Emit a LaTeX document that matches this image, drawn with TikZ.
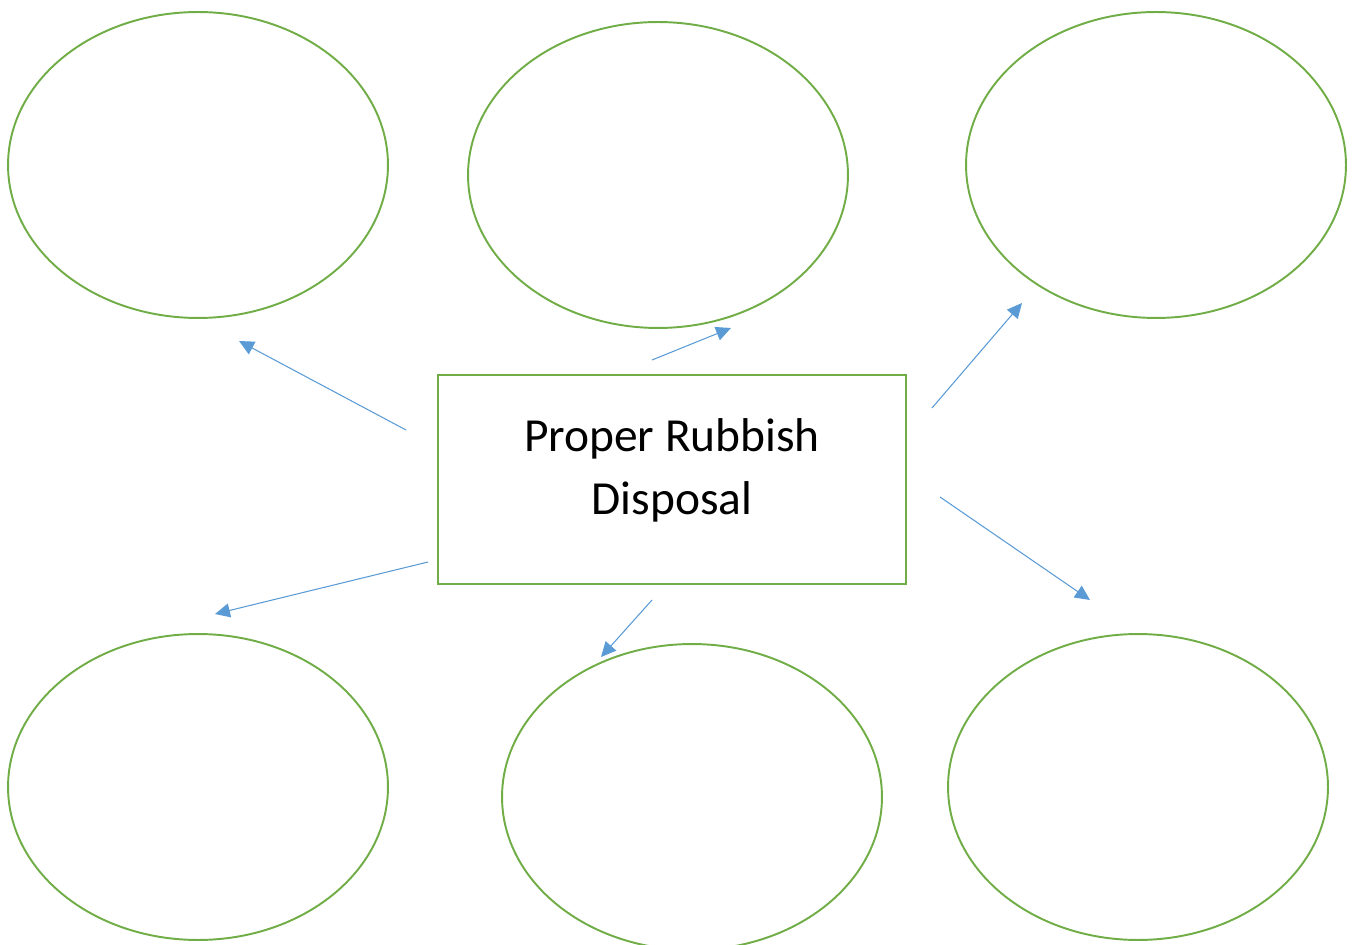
\documentclass[tikz,border=0pt]{standalone}
\usepackage{fontspec}
\setmainfont{Carlito}
\usetikzlibrary{shapes.geometric,arrows.meta}
\definecolor{leafgreen}{HTML}{70AD47}
\definecolor{skyblue}{HTML}{5B9BD5}
\begin{document}
\begin{tikzpicture}[x=0.02cm, y=-0.02cm,
        bubble/.style={ellipse, draw=leafgreen, line width=1.1pt, minimum width=7.6cm, minimum height=6.12cm, inner sep=0pt},
        topic/.style={rectangle, draw=leafgreen, line width=1.4pt, minimum width=9.36cm, minimum height=4.18cm, align=center, font=\fontsize{27}{35.7}\selectfont},
        link/.style={draw=skyblue, line width=0.6pt, -{Triangle[length=8.5pt, width=8pt]}}]
        \useasboundingbox (0,0) rectangle (1359,945);
        \clip (0,0) rectangle (1359,945);

        \node(Topic) at (672,479.5)[topic]{};
        \node(TopicText) at (672,470)[font=\fontsize{27}{35.7}\selectfont, align=center]{Proper Rubbish\\Disposal};

        \node(IdeaTL) at (198,165)[bubble]{};
        \node(IdeaTM) at (658,175)[bubble]{};
        \node(IdeaTR) at (1156,165)[bubble]{};
        \node(IdeaBL) at (198,787)[bubble]{};
        \node(IdeaBM) at (692,797)[bubble]{};
        \node(IdeaBR) at (1138,787)[bubble]{};

        \coordinate(fromTL) at (406,430); \coordinate(toTL) at (239,341);
        \coordinate(fromTM) at (652,360); \coordinate(toTM) at (731,328);
        \coordinate(fromTR) at (932,408); \coordinate(toTR) at (1022,303);
        \coordinate(fromBL) at (428,562); \coordinate(toBL) at (215,614);
        \coordinate(fromBM) at (652,600); \coordinate(toBM) at (601,657);
        \coordinate(fromBR) at (940,497); \coordinate(toBR) at (1090,600);

        \draw[link](fromTL) -- (toTL);
        \draw[link](fromTM) -- (toTM);
        \draw[link](fromTR) -- (toTR);
        \draw[link](fromBL) -- (toBL);
        \draw[link](fromBM) -- (toBM);
        \draw[link](fromBR) -- (toBR);

    \end{tikzpicture}
\end{document}
